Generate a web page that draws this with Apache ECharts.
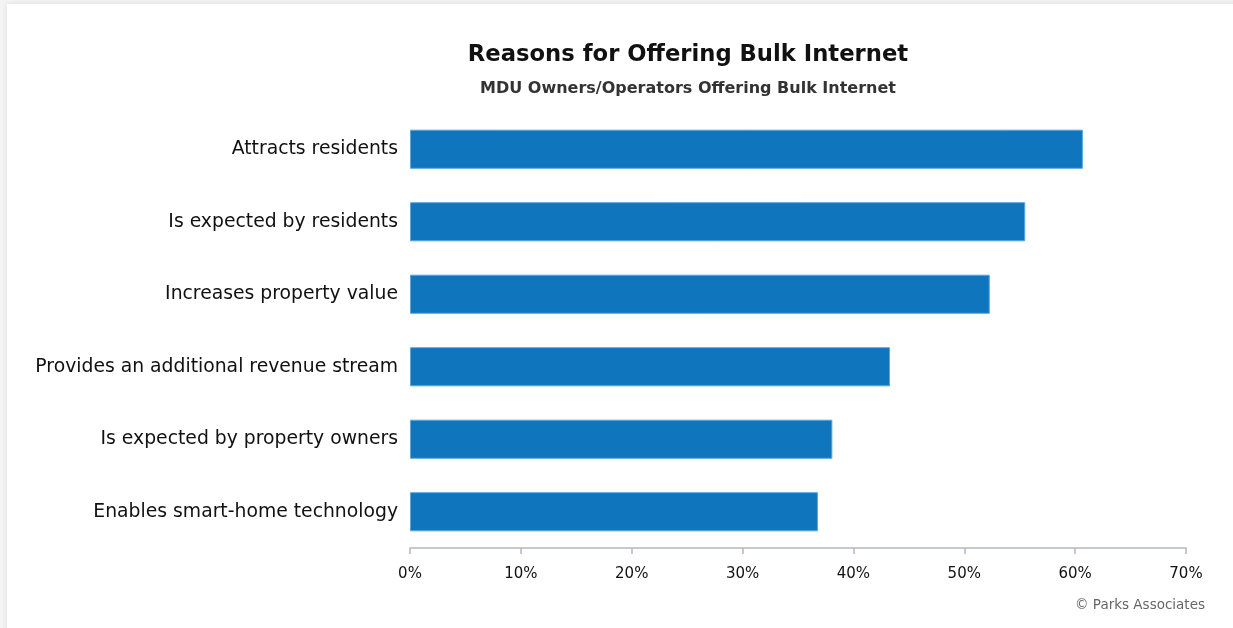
<!DOCTYPE html>
<html>
<head>
<meta charset="utf-8">
<script src="https://cdn.jsdelivr.net/npm/echarts@6/dist/echarts.min.js"></script>
<style>
  html, body { margin: 0; padding: 0; background: #f4f4f4; overflow: hidden; }
  #card { position: absolute; left: 7px; top: 4px; width: 1300px; height: 700px; background: #fff;
          box-shadow: 0 0 6px rgba(0,0,0,0.10); }
  #chart { position: absolute; left: 0; top: 0; width: 1233px; height: 628px; }
</style>
</head>
<body>
<div id="card"></div>
<div id="chart"></div>
<script>
// Reasons MDU owners/operators give for offering bulk internet (% of respondents)
const categories = [
  'Attracts residents',
  'Is expected by residents',
  'Increases property value',
  'Provides an additional revenue stream',
  'Is expected by property owners',
  'Enables smart-home technology'
];
const shares = [60.7, 55.5, 52.3, 43.3, 38.1, 36.8];
const tickValues = [0, 10, 20, 30, 40, 50, 60, 70];

const FONT = '"DejaVu Sans", sans-serif';
const chart = echarts.init(document.getElementById('chart'), null, { renderer: 'canvas' });

chart.setOption({
  animation: false,
  backgroundColor: 'transparent',
  title: [
    {
      text: 'Reasons for Offering Bulk Internet',
      left: 683, top: 39, textAlign: 'center',
      textStyle: { fontFamily: FONT, fontSize: 22.7, fontWeight: 'bold', color: '#111' }
    },
    {
      text: 'MDU Owners/Operators Offering Bulk Internet',
      left: 683, top: 76, textAlign: 'center',
      textStyle: { fontFamily: FONT, fontSize: 16, fontWeight: 'bold', color: '#333' }
    },
    {
      text: '© Parks Associates',
      right: 23, top: 593,
      textStyle: { fontFamily: FONT, fontSize: 13.5, fontWeight: 'normal', color: '#666' }
    }
  ],
  grid: { left: 410, right: 47, top: 113, bottom: 80, containLabel: false },
  xAxis: {
    type: 'value',
    min: tickValues[0],
    max: tickValues[tickValues.length - 1],
    interval: 10,
    axisLine: { show: true, lineStyle: { color: '#b4b8c0', width: 1.5 } },
    axisTick: { show: true, length: 6, lineStyle: { color: '#b4b8c0', width: 1.5 } },
    splitLine: { show: false },
    axisLabel: {
      formatter: v => v + '%',
      margin: 19,
      fontFamily: FONT, fontSize: 15, color: '#111'
    }
  },
  yAxis: {
    type: 'category',
    data: categories,
    inverse: true,
    axisLine: { show: false },
    axisTick: { show: false },
    axisLabel: { margin: 12, padding: [4, 0, 0, 0], fontFamily: FONT, fontSize: 18.8, color: '#111' }
  },
  series: [{
    type: 'bar',
    data: shares,
    barCategoryGap: '46%',
    itemStyle: { color: '#0f76be', borderColor: '#5aa8e0', borderWidth: 1 }
  }]
});
</script>
</body>
</html>
